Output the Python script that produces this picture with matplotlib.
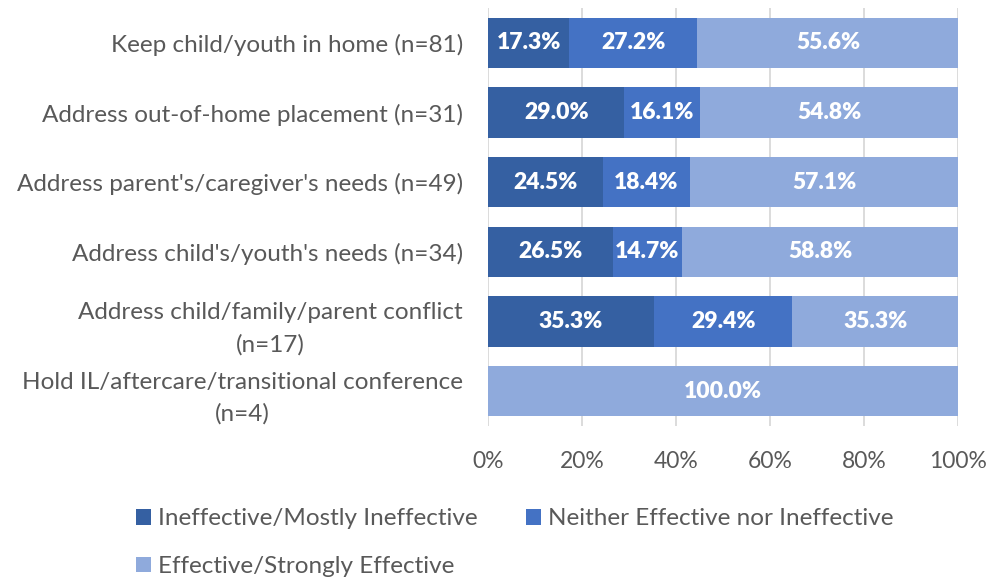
import matplotlib.pyplot as plt
from matplotlib.ticker import PercentFormatter

plt.rcParams['font.family'] = ['Lato', 'DejaVu Sans']

categories = [
    "Keep child/youth in home (n=81)",
    "Address out-of-home placement (n=31)",
    "Address parent's/caregiver's needs (n=49)",
    "Address child's/youth's needs (n=34)",
    "Address child/family/parent conflict\n(n=17)",
    "Hold IL/aftercare/transitional conference\n(n=4)",
]
ineffective = [17.3, 29.0, 24.5, 26.5, 35.3, 0.0]
neither = [27.2, 16.1, 18.4, 14.7, 29.4, 0.0]
effective = [55.6, 54.8, 57.1, 58.8, 35.3, 100.0]

series = [
    ("Ineffective/Mostly Ineffective", ineffective, "#3560A2"),
    ("Neither Effective nor Ineffective", neither, "#4472C4"),
    ("Effective/Strongly Effective", effective, "#8FAADC"),
]

fig = plt.figure(figsize=(9.9, 5.78), dpi=100)
ax = fig.add_axes([0.493, 0.263, 0.475, 0.723])

y = list(range(len(categories)))
left = [0.0] * len(categories)
handles = []
for name, vals, color in series:
    bars = ax.barh(y, vals, left=left, height=0.72, color=color, label=name, zorder=2)
    handles.append(bars)
    for yi, v, l in zip(y, vals, left):
        if v > 0:
            ax.text(l + v / 2, yi, f"{v:.1f}%", ha="center", va="center",
                    color="white", fontsize=16.5, fontweight="heavy", zorder=3)
    left = [a + b for a, b in zip(left, vals)]

ax.set_xlim(0, 100)
ax.set_ylim(len(categories) - 0.5, -0.5)
ax.set_yticks(y)
ax.set_yticklabels(categories, fontsize=17.5, color="#595959", ha="right",
                   multialignment="center", linespacing=1.6)
ax.tick_params(axis="y", length=0, pad=18)
ax.set_xticks([0, 20, 40, 60, 80, 100])
ax.xaxis.set_major_formatter(PercentFormatter(decimals=0))
ax.tick_params(axis="x", length=0, labelsize=16.5, labelcolor="#595959", pad=18)
ax.grid(axis="x", color="#D9D9D9", linewidth=1.3, zorder=0)
for s in ax.spines.values():
    s.set_visible(False)

order = [handles[0], handles[2], handles[1]]
fig.legend(order, [h.get_label() for h in order], loc="upper left",
           bbox_to_anchor=(0.13, 0.133), ncol=2, frameon=False,
           fontsize=17.5, labelcolor="#595959", handlelength=0.6, handleheight=0.6,
           handletextpad=0.3, columnspacing=2.0, labelspacing=1.1,
           borderaxespad=0, borderpad=0.3)

fig.savefig("out.png", dpi=100)
